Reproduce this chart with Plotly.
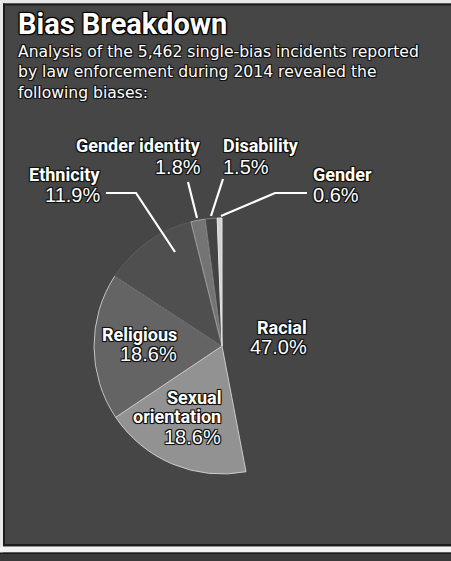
import plotly.graph_objects as go

# Share of single-bias hate-crime incidents by bias type, 2014
categories = ["Racial", "Sexual orientation", "Religious", "Ethnicity",
              "Gender identity", "Disability", "Gender"]
shares = [47.0, 18.6, 18.6, 11.9, 1.8, 1.5, 0.6]
label_lines = {
    "Racial": ["Racial"],
    "Sexual orientation": ["Sexual", "orientation"],
    "Religious": ["Religious"],
    "Ethnicity": ["Ethnicity"],
    "Gender identity": ["Gender identity"],
    "Disability": ["Disability"],
    "Gender": ["Gender"],
}
title_text = "Bias Breakdown"
subtitle_lines = [
    "Analysis of the 5,462 single-bias incidents reported",
    "by law enforcement during 2014 revealed the",
    "following biases:",
]

W, H = 451, 561
PANEL = "#464646"
slice_colors = ["#464646", "#929292", "#646464", "#4f4f4f",
                "#747474", "#434343", "#d2d2d2"]
slice_lines = ["rgba(0,0,0,0)", "#cccccc", "#c4c4c4", "#5c5c5c",
               "#a0a0a0", "#7a7a7a", "#e6e6e6"]


def px(x):
    return x / W


def py(y):
    return 1 - y / H


# pie centre and radius in pixels
cx, cy, r = 222, 346, 128

fig = go.Figure(go.Pie(
    labels=categories,
    values=shares,
    sort=False,
    direction="clockwise",
    rotation=0,
    textinfo="none",
    hoverinfo="label+percent",
    marker=dict(colors=slice_colors, line=dict(color=slice_lines, width=1)),
    domain=dict(x=[px(cx - r), px(cx + r)], y=[py(cy + r), py(cy - r)]),
    showlegend=False,
))

outline = ("-1px -1px 0 #111, 1px -1px 0 #111, -1px 1px 0 #111, "
           "1px 1px 0 #111, 0 0 2px #000")
NAME_FONT = dict(family="Roboto, Liberation Sans, sans-serif", size=18,
                 color="white", weight="bold", shadow=outline)
VALUE_FONT = dict(family="Liberation Sans, Arial, sans-serif", size=20,
                  color="white", shadow=outline)

annotations = [
    dict(text=title_text, x=px(16), y=py(24), xanchor="left",
         yanchor="middle",
         font=dict(family="Roboto, Liberation Sans, sans-serif", size=29,
                   color="white", weight="bold",
                   shadow="-1px -1px 0 #000, 1px -1px 0 #000, "
                          "-1px 1px 0 #000, 1px 1px 0 #000, 0 0 3px #000")),
    dict(text="<br>".join(subtitle_lines), x=px(16), y=py(72),
         xanchor="left", yanchor="middle", align="left",
         font=dict(family="DejaVu Sans, Liberation Sans, sans-serif",
                   size=15.6, color="white", shadow=outline)),
]

# label placement: (right/left anchor x, name line centres, value centre)
placement = {
    "Racial": ("right", 309, [327], 347),
    "Sexual orientation": ("right", 223, [397, 416], 437),
    "Religious": ("right", 179, [334], 354),
    "Ethnicity": ("right", 102, [174], 195),
    "Gender identity": ("right", 203, [145.5], 167),
    "Disability": ("left", 221, [145.5], 167),
    "Gender": ("left", 311, [174], 195),
}
for cat, val in zip(categories, shares):
    anchor, x, name_ys, val_y = placement[cat]
    for txt, yy in zip(label_lines[cat], name_ys):
        annotations.append(dict(text=txt, x=px(x), y=py(yy), xanchor=anchor,
                                yanchor="middle", font=NAME_FONT))
    annotations.append(dict(text=f"{val:.1f}%", x=px(x), y=py(val_y),
                            xanchor=anchor, yanchor="middle",
                            font=VALUE_FONT))

for a in annotations:
    a.update(xref="paper", yref="paper", showarrow=False)

# leader lines from outside labels to their slices
leaders = [
    [(106, 193), (136, 193), (175, 252)],   # Ethnicity
    [(188, 182), (197, 218)],               # Gender identity
    [(223, 179), (211, 216)],               # Disability
    [(307, 193), (275, 193), (221, 216)],   # Gender
]
shapes = []
for pts in leaders:
    path = "M " + " L ".join(f"{px(x):.5f},{py(y):.5f}" for x, y in pts)
    shapes.append(dict(type="path", path=path, xref="paper", yref="paper",
                       line=dict(color="white", width=2.2)))


# frame around the panel
def rect(x0, y0, x1, y1, color):
    return dict(type="rect", xref="paper", yref="paper",
                x0=px(x0), x1=px(x1), y0=py(y1), y1=py(y0),
                fillcolor=color, line=dict(width=0), layer="above")


shapes += [
    rect(0, 0, W, 3.5, "#e8e8e8"),
    rect(0, 3.5, W, 5.5, "#1c1c1c"),
    rect(0, 0, 3, H, "#e8e8e8"),
    rect(3, 3.5, 5, 546, "#1c1c1c"),
    rect(3, 544, W, 546.5, "#1c1c1c"),
    rect(0, 546.5, W, 552.5, "#f2f2f2"),
    rect(0, 552.5, W, 554, "#1c1c1c"),
    rect(0, 554, W, H, "#3a3a3a"),
]

fig.update_layout(
    width=W, height=H,
    margin=dict(l=0, r=0, t=0, b=0),
    paper_bgcolor=PANEL,
    plot_bgcolor=PANEL,
    annotations=annotations,
    shapes=shapes,
)

fig.write_html("out.html")
